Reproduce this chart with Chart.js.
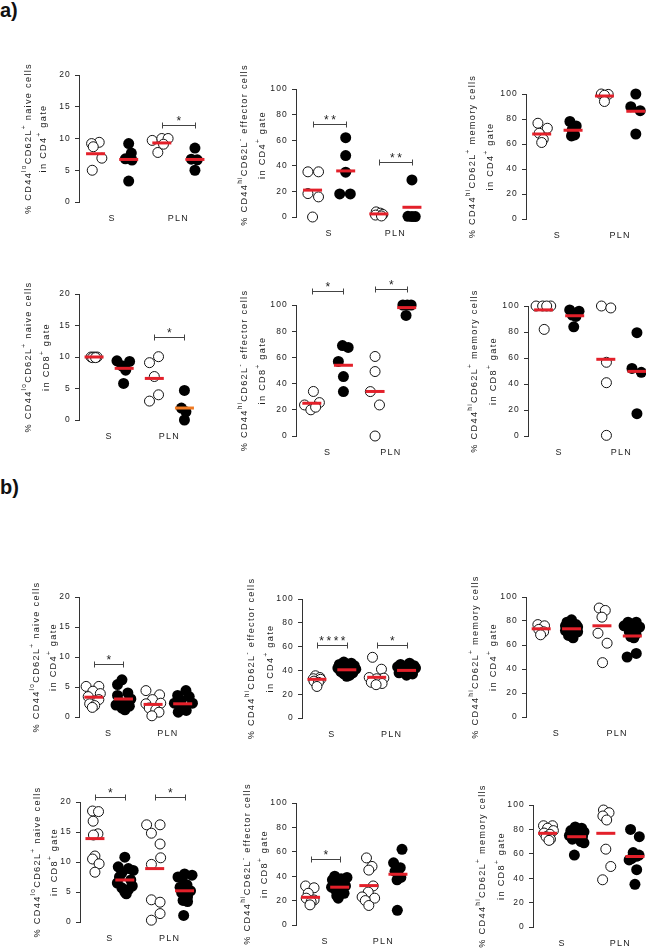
<!DOCTYPE html>
<html>
<head>
<meta charset="utf-8">
<script src="https://cdn.jsdelivr.net/npm/chart.js@4.4.1/dist/chart.umd.min.js"></script>
<style>
  html, body { margin: 0; padding: 0; background: #fff; }
  body { width: 646px; height: 948px; position: relative; overflow: hidden; font-family: "Liberation Sans", Arial, sans-serif; }
  canvas { position: absolute; }
  .tag { position: absolute; left: 0; font-weight: bold; font-size: 20px; line-height: 20px; color: #111; }
</style>
</head>
<body>
<div class="tag" style="top:0px">a)</div>
<div class="tag" style="top:477px">b)</div>
<script>
const categories = ['S', 'PLN'];

// groups: S open, S filled, PLN open, PLN filled
const a1Values = [[9.4, 9.2, 8.7, 6.9, 5.0], [9.2, 7.7, 6.8, 6.6, 3.3], [9.7, 10.0, 10.0, 7.8, 9.1], [8.5, 6.75, 6.65, 5.0]];
const a1Jitter = [[0.11, -0.12, -0.07, 0.19, -0.1], [0, 0.08, -0.1, 0.1, 0], [-0.29, 0, 0.19, -0.12, 0.05], [0, -0.11, 0.07, 0]];
const a1Means = [7.6, 6.7, 9.3, 6.7];
const a1Stars = [[3, 4, 12.1, '*']];

const a2Values = [[35.3, 35.3, 18.3, 15.7, 0], [62, 48, 35, 18, 18], [4, 3, 2, 1.5, 0.8], [29, 0.5, 0.3, 0.3]];
const a2Jitter = [[-0.14, 0.18, -0.14, 0.18, 0], [0, 0, 0, -0.18, 0.14], [-0.08, 0.05, 0.12, -0.1, 0.08], [0, -0.12, 0.1, 0]];
const a2Means = [21, 36, 2.4, 7.6];
const a2Stars = [[1, 2, 72.8, '**'], [3, 4, 42.7, '**']];

const a3Values = [[76.6, 72.6, 68.6, 63.8, 61.2], [78, 74.5, 71.3, 67.3, 66.5], [100, 99.7, 99, 94], [100, 89.9, 86.7, 68]];
const a3Jitter = [[-0.12, 0.18, -0.08, 0.05, 0], [-0.1, 0.1, -0.03, 0.05, -0.05], [-0.1, 0.12, 0, 0], [0, -0.16, 0.14, 0]];
const a3Means = [68, 71, 98.4, 86.2];
const a3Stars = [];

const a4Values = [[10, 10, 10, 9.9, 9.9], [9.4, 9.3, 8.6, 7.9, 5.8], [10.05, 9.1, 6.9, 4.0, 3.0], [4.7, 1.9, 1.3, 0]];
const a4Jitter = [[-0.1, 0.1, 0, -0.05, 0.05], [-0.24, 0.18, -0.08, 0.05, -0.02], [0.14, -0.16, 0, 0.14, -0.16], [0, -0.1, 0.05, 0]];
const a4Means = [10, 8.2, 6.6, 1.9];
const a4Stars = [[3, 4, 13.2, '*']];

const a5Values = [[34, 25.5, 23.7, 20, 22], [69, 67.6, 56.9, 45.4, 33.9], [60.7, 49.2, 33.9, 23.7, 0], [100, 100, 100, 92]];
const a5Jitter = [[0.05, 0.24, -0.23, -0.03, 0.12], [-0.03, 0.15, -0.16, 0, 0], [0, 0, -0.15, 0.14, 0], [-0.12, 0.02, 0.14, -0.02]];
const a5Means = [25, 54, 34, 98];
const a5Stars = [[1, 2, 111, '*'], [3, 4, 112, '*']];

const a6Values = [[100, 100, 100, 100, 82], [97, 96, 93, 92, 84], [100, 98.5, 56.7, 41, 0.5], [79.5, 52, 49, 17.2]];
const a6Jitter = [[-0.24, -0.03, 0.23, 0.1, 0.02], [-0.16, 0.14, -0.08, 0.04, -0.03], [-0.14, 0.16, 0.02, 0.02, 0.02], [0, -0.16, 0.14, 0]];
const a6Means = [97, 92.5, 59, 49.7];
const a6Stars = [];

const b1Values = [[5.1, 5.1, 4.3, 3.9, 3.4, 2.9, 2.2, 1.9, 1.6], [6.2, 5.4, 4.0, 3.6, 3.0, 2.6, 2.4, 2.0, 1.8, 1.5, 1.2], [4.4, 3.7, 2.9, 2.3, 2.2, 1.5, 1.2, 0.8, 0.2], [4.4, 3.6, 3.4, 2.8, 2.3, 2.3, 1.5, 1.2, 1.1, 0.8]];
const b1Jitter = [[-0.26, 0.17, -0.03, 0.22, -0.19, 0.17, -0.14, 0.03, -0.05], [-0.05, -0.2, 0.15, -0.2, 0.25, -0.15, 0.1, -0.25, 0.2, -0.05, 0.05], [-0.24, 0.22, -0.02, 0.26, -0.24, -0.13, 0.09, 0.2, -0.04], [0.11, -0.17, 0.22, -0.05, -0.28, 0.33, 0.05, -0.06, 0.12, -0.15]];
const b1Means = [3.3, 3.0, 2.1, 2.2];
const b1Stars = [[1, 2, 8.9, '*']];

const b2Values = [[35.5, 34, 33, 32.5, 31, 30, 26.5], [47, 46, 45, 44, 42, 41, 40, 39, 38, 37, 36, 35], [51, 41, 34, 33.5, 33, 30, 29, 28], [46, 45, 44, 43, 42, 41, 40, 39, 38, 37, 36]];
const b2Jitter = [[-0.05, 0.1, -0.12, 0.12, -0.1, 0.05, 0], [-0.1, 0.15, -0.25, 0.25, -0.3, 0.3, 0, -0.2, 0.2, -0.1, 0.1, 0], [-0.14, 0.16, -0.25, 0.24, 0, -0.18, 0.18, -0.02], [0.1, -0.2, 0.25, -0.3, 0.3, 0, -0.15, 0.15, -0.25, 0.2, 0]];
const b2Means = [32.5, 40.5, 34.2, 40];
const b2Stars = [[1, 2, 61.3, '****'], [3, 4, 61.3, '*']];

const b3Values = [[77, 76, 73, 71, 68.5], [81, 79, 77, 76, 75, 74, 73, 72, 71, 70, 68, 66], [90.8, 88.8, 83.2, 69.8, 61.5, 45.3], [79, 79, 76, 75, 73, 71, 69, 67, 66, 53, 50]];
const b3Jitter = [[-0.11, 0.11, -0.08, 0.08, -0.02], [0, -0.15, 0.15, -0.2, 0.2, -0.1, 0.1, -0.2, 0.2, 0, -0.1, 0.05], [-0.09, 0.11, 0, -0.13, 0.17, 0.02], [-0.14, 0.13, -0.27, 0.24, 0, -0.1, 0.12, -0.05, 0.05, 0.13, -0.17]];
const b3Means = [73.5, 73.5, 76, 67.5];
const b3Stars = [];

const b4Values = [[18.5, 18.4, 16.8, 14.7, 14.5, 11.0, 10.5, 9.7, 8.3], [10.8, 9.2, 8.9, 8.6, 8.2, 7.5, 7.0, 6.5, 6.0, 5.7, 5.4, 5.0, 4.7], [16.2, 16.2, 14.8, 13.0, 10.7, 9.6, 3.7, 3.3, 1.4, 0.3], [8.0, 7.8, 7.5, 7.3, 6.2, 5.8, 5.2, 4.9, 4.2, 3.6, 3.4, 1.1]];
const b4Jitter = [[-0.08, 0.12, -0.06, 0.1, -0.05, 0, -0.08, 0.14, 0], [0, -0.22, 0.12, 0.28, -0.1, -0.18, 0.2, -0.25, 0.25, -0.1, 0.12, 0, 0.05], [-0.27, 0.18, -0.11, 0.18, 0.2, -0.11, -0.11, 0.18, 0.18, -0.11], [0, 0.25, -0.22, -0.08, 0.08, -0.15, 0.2, -0.1, 0.1, -0.05, 0.1, -0.03]];
const b4Means = [13.9, 7.0, 8.9, 5.2];
const b4Stars = [[1, 2, 20.8, '*'], [3, 4, 20.8, '*']];

const b5Values = [[32, 30.5, 26, 22, 20.5, 19, 16.5], [40, 39, 38, 37, 35, 33, 32, 31, 30, 29, 28, 26, 24, 22], [55, 48, 45, 32, 27, 23, 22, 20, 16], [62, 51, 47, 44, 42, 39, 37, 12]];
const b5Jitter = [[-0.17, 0.12, -0.08, -0.15, 0.12, 0.02, -0.02], [-0.17, 0.25, 0.05, -0.25, 0.15, -0.1, 0.2, -0.28, 0.1, -0.15, 0.05, 0.15, -0.1, -0.05], [-0.08, 0.11, 0, 0.15, -0.02, -0.23, 0.2, -0.12, 0], [0.14, -0.15, 0.08, -0.1, 0, 0.1, -0.03, -0.02]];
const b5Means = [22.7, 31, 32.3, 41.6];
const b5Stars = [[1, 2, 54, '*']];

const b6Values = [[83, 83, 81, 79, 77, 76, 74, 72, 71], [82, 81, 80, 79, 78, 77, 76, 75, 74, 73, 72, 70, 69, 59], [95.9, 93.7, 91, 87.7, 63.8, 49.6, 38.7], [80, 74, 61, 59, 58, 56, 55, 47, 35]];
const b6Jitter = [[-0.14, 0.17, 0, 0.2, -0.12, 0.08, -0.05, 0.1, 0.05], [-0.05, 0.17, 0.05, -0.2, 0.25, -0.1, 0.1, -0.25, 0.2, 0, -0.15, 0.15, 0.25, -0.08], [-0.08, 0.11, -0.1, 0.03, 0, 0.17, -0.11], [-0.15, 0.15, -0.06, 0.14, 0.05, -0.12, -0.2, 0.06, 0]];
const b6Means = [76.8, 74, 76.8, 57.8];
const b6Stars = [];

// y-axis titles (text, superscript) pieces
function yTitle(kind, cd) {
  const hi = kind !== 'naive cells';
  const sign = kind === 'effector cells' ? '-' : '+';
  return [
    [['% CD44'], [hi ? 'hi' : 'lo', 1], ['CD62L'], [sign, 1], [' ' + kind]],
    [['in CD' + cd], ['+', 1], [' gate']]
  ];
}

const RED = '#e3202a';
const FONT = '"Liberation Sans", Arial, sans-serif';

// layout: [axis x, y of max tick, y of 0, x of last column]
const panels = [
  { v: a1Values, j: a1Jitter, m: a1Means, s: a1Stars, max: 20, box: [79, 75, 202, 195], t: yTitle('naive cells', 4), tx: [-51, -36], ty: 0 },
  { v: a2Values, j: a2Jitter, m: a2Means, s: a2Stars, max: 100, box: [296, 89, 217, 412], t: yTitle('effector cells', 4), tx: [-52, -34], ty: -8 },
  { v: a3Values, j: a3Jitter, m: a3Means, s: a3Stars, max: 100, box: [526, 94, 219, 636], t: yTitle('memory cells', 4), tx: [-54, -36], ty: 0 },
  { v: a4Values, j: a4Jitter, m: a4Means, s: a4Stars, max: 20, box: [79, 294, 420, 185], t: yTitle('naive cells', 8), tx: [-51, -33], ty: 0, mc: [RED, RED, RED, '#f07a22'] },
  { v: a5Values, j: a5Jitter, m: a5Means, s: a5Stars, max: 100, box: [296, 305, 436, 407], t: yTitle('effector cells', 8), tx: [-52, -34], ty: 0 },
  { v: a6Values, j: a6Jitter, m: a6Means, s: a6Stars, max: 100, box: [528, 306, 436, 637], t: yTitle('memory cells', 8), tx: [-54, -35], ty: 0 },
  { v: b1Values, j: b1Jitter, m: b1Means, s: b1Stars, max: 20, box: [79, 597, 717, 183], t: yTitle('naive cells', 4), tx: [-43, -26], ty: 0 },
  { v: b2Values, j: b2Jitter, m: b2Means, s: b2Stars, max: 100, box: [302, 599, 718, 407], t: yTitle('effector cells', 4), tx: [-51, -32], ty: 0 },
  { v: b3Values, j: b3Jitter, m: b3Means, s: b3Stars, max: 100, box: [526, 597, 717, 633], t: yTitle('memory cells', 4), tx: [-51, -33], ty: 0 },
  { v: b4Values, j: b4Jitter, m: b4Means, s: b4Stars, max: 20, box: [80, 802, 922, 185], t: yTitle('naive cells', 8), tx: [-43, -26], ty: 0 },
  { v: b5Values, j: b5Jitter, m: b5Means, s: b5Stars, max: 100, box: [296, 803, 925, 398], t: yTitle('effector cells', 8), tx: [-49, -32], ty: 0 },
  { v: b6Values, j: b6Jitter, m: b6Means, s: b6Stars, max: 100, box: [533, 805, 927, 635], t: yTitle('memory cells', 8), tx: [-51, -32], ty: 0 }
];

const annot = {
  id: 'annot',
  beforeDraw(chart) {
    chart.ctx.letterSpacing = '1.2px';
  },
  afterDraw(chart, args, o) {
    const { ctx, chartArea, scales } = chart;
    ctx.save();
    // significance brackets
    ctx.strokeStyle = '#444';
    ctx.lineWidth = 1;
    ctx.fillStyle = '#222';
    ctx.textAlign = 'center';
    ctx.textBaseline = 'alphabetic';
    ctx.font = '12px ' + FONT;
    ctx.letterSpacing = '2.5px';
    o.stars.forEach(([a, b, y, lab]) => {
      const x1 = Math.round(scales.x.getPixelForValue(a)) + 0.5;
      const x2 = Math.round(scales.x.getPixelForValue(b)) + 0.5;
      const py = Math.round(scales.y.getPixelForValue(y)) + 0.5;
      ctx.beginPath();
      ctx.moveTo(x1, py); ctx.lineTo(x2, py);
      ctx.moveTo(x1, py - 3); ctx.lineTo(x1, py + 3);
      ctx.moveTo(x2, py - 3); ctx.lineTo(x2, py + 3);
      ctx.stroke();
      ctx.fillText(lab, (x1 + x2) / 2 + 1.2, py - 1);
    });
    // rotated y title with superscripts
    ctx.letterSpacing = '1.3px';
    ctx.fillStyle = '#222';
    ctx.textAlign = 'left';
    ctx.textBaseline = 'middle';
    const main = '9.2px ' + FONT, sup = '6.5px ' + FONT;
    const cy = (chartArea.top + chartArea.bottom) / 2 + o.ty;
    o.title.forEach((line, k) => {
      let total = 0;
      line.forEach(seg => { ctx.font = seg[1] ? sup : main; total += ctx.measureText(seg[0]).width; });
      ctx.save();
      ctx.translate(chartArea.left + o.tx[k], cy);
      ctx.rotate(-Math.PI / 2);
      let x = -total / 2;
      line.forEach(seg => {
        ctx.font = seg[1] ? sup : main;
        ctx.fillText(seg[0], x, seg[1] ? -4 : 0);
        x += ctx.measureText(seg[0]).width;
      });
      ctx.restore();
    });
    ctx.restore();
  }
};

panels.forEach(p => {
  const [ax, top, bottom, last] = p.box;
  const plotW = Math.round((last - ax) / 3.5 * 4);
  const canvas = document.createElement('canvas');
  canvas.width = 70 + plotW + 12;
  canvas.height = 40 + (bottom - top) + 30;
  canvas.style.left = (ax - 70) + 'px';
  canvas.style.top = (top - 40) + 'px';
  document.body.appendChild(canvas);

  const datasets = p.v.map((vals, g) => {
    const open = g % 2 === 0;
    return {
      data: vals.map((y, i) => ({ x: g + 1 + p.j[g][i], y: y })),
      pointRadius: open ? 5 : 5.5,
      pointBorderWidth: open ? 1 : 0,
      pointBackgroundColor: open ? '#fff' : '#000',
      pointBorderColor: '#111',
      clip: false,
      order: 2
    };
  });
  datasets.push({
    data: p.m.map((y, g) => ({ x: g + 1, y: y })),
    pointStyle: 'line',
    pointRadius: 9.5,
    pointBorderWidth: 3,
    pointBorderColor: p.mc || RED,
    clip: false,
    order: 0
  });

  new Chart(canvas, {
    type: 'scatter',
    data: { datasets },
    options: {
      responsive: false,
      animation: false,
      events: [],
      layout: { padding: { top: 40, right: 12, left: 0, bottom: 0 } },
      plugins: {
        legend: { display: false },
        tooltip: { enabled: false },
        annot: { stars: p.s, title: p.t, tx: p.tx, ty: p.ty }
      },
      scales: {
        x: {
          type: 'linear', min: 0.5, max: 4.5,
          afterFit: s => { s.height = 30; },
          afterBuildTicks: s => { s.ticks = [{ value: 1.5 }, { value: 3.5 }]; },
          ticks: { callback: (v, i) => categories[i], padding: 3, autoSkip: false, maxRotation: 0, color: '#222', font: { size: 9, family: FONT } },
          grid: { display: false },
          border: { display: false }
        },
        y: {
          min: 0, max: p.max,
          afterFit: s => { s.width = 70; },
          ticks: { stepSize: p.max === 20 ? 5 : 20, padding: 4, color: '#222', font: { size: 8.5, family: FONT } },
          grid: { drawOnChartArea: false, tickLength: 4, color: '#333' },
          border: { color: '#333' }
        }
      }
    },
    plugins: [annot]
  });
});
</script>
</body>
</html>
